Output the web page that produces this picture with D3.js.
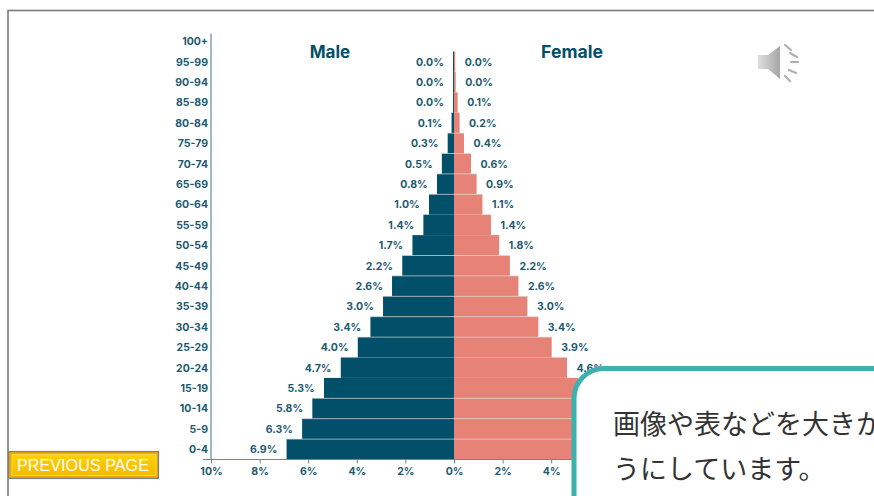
<!DOCTYPE html>
<html><head><meta charset="utf-8">
<script src="https://cdnjs.cloudflare.com/ajax/libs/d3/7.8.5/d3.min.js"></script>
<style>html,body{margin:0;padding:0;background:#fff;overflow:hidden}svg{display:block}</style>
</head><body><svg id="c" width="874" height="496"></svg>
<script>
const ageGroups=["0-4","5-9","10-14","15-19","20-24","25-29","30-34","35-39","40-44","45-49","50-54","55-59","60-64","65-69","70-74","75-79","80-84","85-89","90-94","95-99","100+"];
const maleValues=[6.89,6.25,5.83,5.35,4.66,3.96,3.44,2.92,2.55,2.13,1.71,1.26,1.03,0.7,0.5,0.26,0.1,0.04,0.04,0.04,null];
const femaleValues=[6.6,6.0,5.5,5.1,4.65,4.02,3.47,3.02,2.65,2.3,1.86,1.52,1.17,0.93,0.7,0.41,0.23,0.15,0.07,0.05,null];
const maleLabels=["6.9%","6.3%","5.8%","5.3%","4.7%","4.0%","3.4%","3.0%","2.6%","2.2%","1.7%","1.4%","1.0%","0.8%","0.5%","0.3%","0.1%","0.0%","0.0%","0.0%",null];
const femaleLabels=[null,null,null,null,"4.6%","3.9%","3.4%","3.0%","2.6%","2.2%","1.8%","1.4%","1.1%","0.9%","0.6%","0.4%","0.2%","0.1%","0.0%","0.0%",null];
const separatedRows=["0-4","5-9","10-14","25-29","30-34","35-39","40-44","45-49","60-64","65-69","70-74","75-79"];
const xTicks=[-10,-8,-6,-4,-2,0,2,4];
const calloutLines=["画像や表などを大きか","うにしています。"];
const buttonLabel="PREVIOUS PAGE";
const navy="#024f69",salmon="#e68376",ink="#1d5a70",axisCol="#5f8d9c";

const svg=d3.select("#c");
const x=d3.scaleLinear().domain([-10,0]).range([211,454]);
const y=d3.scaleBand().domain(ageGroups).range([459.5,31.1]);
const font="Inter,'Open Sans',sans-serif";

// frame
svg.append("rect").attr("x",8).attr("y",10.5).attr("width",900).attr("height",520).attr("fill","#fff").attr("stroke","#7c7c7c").attr("stroke-width",1.6);

// bars
const all=ageGroups.map((a,i)=>({a,m:maleValues[i],f:femaleValues[i],ml:maleLabels[i],fl:femaleLabels[i]}));
const rows=all.filter(d=>d.m!==null);
svg.append("g").selectAll("rect").data(rows).join("rect")
  .attr("x",d=>x(-d.m)).attr("y",d=>y(d.a)).attr("width",d=>x(0)-x(-d.m)).attr("height",y.bandwidth()).attr("fill",navy);
svg.append("g").selectAll("rect").data(rows).join("rect")
  .attr("x",x(0)).attr("y",d=>y(d.a)).attr("width",d=>x(d.f)-x(0)).attr("height",y.bandwidth()).attr("fill",salmon);

// separators along the top of some rows
svg.append("g").selectAll("line").data(rows.filter(d=>separatedRows.includes(d.a))).join("line")
  .attr("x1",d=>x(-d.m)).attr("x2",d=>x(d.f)).attr("y1",d=>y(d.a)).attr("y2",d=>y(d.a))
  .attr("stroke","#dcdcdc").attr("stroke-opacity",.6).attr("stroke-width",1);

// value labels
const valueStyle=s=>s.attr("font-family",font).attr("font-weight",700).attr("font-size",10.5).attr("fill",ink).attr("dominant-baseline","middle");
svg.append("g").selectAll("text").data(rows).join("text").call(valueStyle)
  .attr("text-anchor","end").attr("x",d=>x(-d.m)-9.2).attr("y",d=>y(d.a)+y.bandwidth()/2+1)
  .text(d=>d.ml);
svg.append("g").selectAll("text").data(rows.filter(d=>d.fl)).join("text").call(valueStyle)
  .attr("x",d=>x(d.f)+9.5).attr("y",d=>y(d.a)+y.bandwidth()/2+1)
  .text(d=>d.fl);

// axes
const ax=svg.append("g").attr("transform","translate(0,459.5)")
  .call(d3.axisBottom(x).tickValues(xTicks).tickSize(4).tickPadding(4).tickFormat(d=>Math.abs(d)+"%"));
ax.select(".domain").remove();
ax.append("line").attr("x1",203).attr("x2",874).attr("stroke",axisCol).attr("stroke-width",1.2);
ax.selectAll(".tick line").attr("stroke",axisCol);
ax.selectAll("text").attr("font-family",font).attr("font-weight",700).attr("font-size",10.5).attr("fill",ink);

const ay=svg.append("g").attr("transform","translate(211,0.5)")
  .call(d3.axisLeft(y).tickSize(0).tickPadding(3));
ay.select(".domain").remove();
ay.append("line").attr("y1",33).attr("y2",459).attr("stroke",axisCol).attr("stroke-width",1.2);
ay.selectAll("text").attr("font-family",font).attr("font-weight",700).attr("font-size",10.5).attr("fill",ink);

// titles
svg.append("text").attr("x",330).attr("y",58).attr("text-anchor","middle").attr("font-family",font).attr("font-weight",700).attr("font-size",17).attr("fill",navy).text("Male");
svg.append("text").attr("x",572).attr("y",58).attr("text-anchor","middle").attr("font-family",font).attr("font-weight",700).attr("font-size",17.6).attr("fill",navy).text("Female");

// speaker icon
const defs=svg.append("defs");
const g1=defs.append("linearGradient").attr("id","spk");
g1.append("stop").attr("offset",0).attr("stop-color","#dedede");
g1.append("stop").attr("offset",1).attr("stop-color","#a6a6a6");
const btn=defs.append("linearGradient").attr("id","btn").attr("x2",0).attr("y2",1);
btn.append("stop").attr("offset",0).attr("stop-color","#ffd000");
btn.append("stop").attr("offset",1).attr("stop-color","#f7bb00");
defs.append("filter").attr("id","soft").append("feGaussianBlur").attr("stdDeviation",0.7);
const spk=svg.append("g").attr("filter","url(#soft)");
spk.append("path").attr("d","M758 55H768L780 46V79L768 69H758Z").attr("fill","url(#spk)");
[[785,45,791,50],[790,53,797,57],[791,62,798,62],[789,70,796,73],[785,76,790,81]].forEach(s=>
  spk.append("line").attr("x1",s[0]).attr("y1",s[1]).attr("x2",s[2]).attr("y2",s[3]).attr("stroke","#b0b0b0").attr("stroke-width",2.2).attr("stroke-linecap","round"));

// button
svg.append("rect").attr("x",8.5).attr("y",451.5).attr("width",150).attr("height",27).attr("fill","#eaa800").attr("stroke","#7b7f86").attr("stroke-width",1.2);
svg.append("rect").attr("x",11.5).attr("y",454).attr("width",145).attr("height",22).attr("fill","#fbdc4a");
svg.append("rect").attr("x",12.5).attr("y",455).attr("width",143).attr("height",20).attr("fill","url(#btn)");
svg.append("text").attr("x",83).attr("y",470.5).attr("text-anchor","middle").attr("font-family","'Liberation Sans',Arial,sans-serif").attr("font-size",16.2).attr("fill","#fff").text(buttonLabel);

// callout
svg.append("rect").attr("x",574).attr("y",368.5).attr("width",400).attr("height",200).attr("rx",30).attr("fill","#fff").attr("stroke","#3cb1ae").attr("stroke-width",5);
svg.append("g").selectAll("text").data(calloutLines).join("text")
  .attr("x",613).attr("y",(d,i)=>434+i*45).attr("font-family","'Noto Sans CJK JP',sans-serif").attr("font-size",27).attr("fill","#333").text(d=>d);
</script></body></html>
